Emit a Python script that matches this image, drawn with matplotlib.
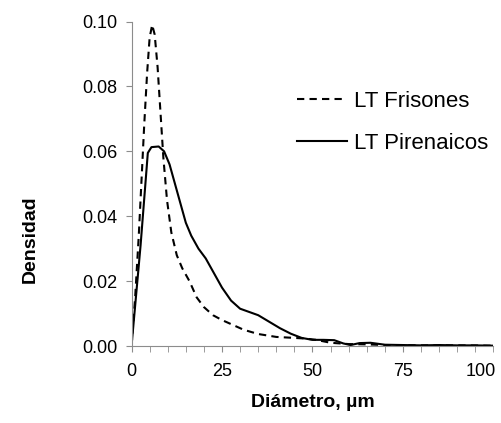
"""Densidad del diámetro de fibras: LT Frisones vs LT Pirenaicos."""

import matplotlib.pyplot as plt
from matplotlib.ticker import MultipleLocator, FixedLocator

plt.rcParams["font.family"] = ["Liberation Sans", "DejaVu Sans"]

# Curvas (diámetro en µm, densidad)
x_frisones = [0, 1, 2, 2.8, 3.5, 4.3, 5, 5.7, 6.4, 7.2, 8, 8.8, 9.8, 11,
              12.5, 14, 16, 18, 20, 22.5, 25, 28, 31, 35, 40, 45, 48, 51,
              55, 60, 65, 70, 80, 90, 100]
y_frisones = [0, 0.015, 0.034, 0.052, 0.068, 0.084, 0.095, 0.099, 0.096,
              0.086, 0.072, 0.058, 0.045, 0.035, 0.028, 0.024, 0.020, 0.015,
              0.012, 0.0095, 0.008, 0.0065, 0.005, 0.0037, 0.0028, 0.0025,
              0.0023, 0.0019, 0.0010, 0.0006, 0.0005, 0.0003, 0.0002,
              0.0002, 0.0001]

x_pirenaicos = [0, 2.5, 4.5, 5.5, 7.5, 9, 10.5, 12, 13.5, 15, 16.5, 18.5,
                20.5, 22.5, 25, 27.5, 30, 32.5, 35, 38, 41, 44, 47, 50, 53,
                56, 58.5, 60.5, 63, 66, 70, 75, 80, 85, 90, 95, 100]
y_pirenaicos = [0, 0.031, 0.0595, 0.0613, 0.0615, 0.060, 0.056, 0.050,
                0.044, 0.038, 0.034, 0.030, 0.027, 0.023, 0.018, 0.014,
                0.0115, 0.0105, 0.0095, 0.0075, 0.0055, 0.0038, 0.0025,
                0.0019, 0.0019, 0.0018, 0.0008, 0.0003, 0.0009, 0.0010,
                0.0004, 0.0003, 0.0002, 0.0003, 0.0002, 0.0002, 0.0001]

x_ticks = [0, 25, 50, 75]
x_last = 100

fig = plt.figure(figsize=(5.02, 4.23), dpi=100)
ax = fig.add_axes([0.262, 0.182, 0.721, 0.767])

ax.plot(x_frisones, y_frisones, color="black", linestyle=(0, (3.5, 2.5)),
        linewidth=1.5, label="LT Frisones")
ax.plot(x_pirenaicos, y_pirenaicos, color="black", linestyle="-",
        linewidth=1.5, label="LT Pirenaicos")

ax.set_xlim(0, 100)
ax.set_ylim(0, 0.10)
ax.xaxis.set_major_locator(FixedLocator(x_ticks))
ax.xaxis.set_minor_locator(MultipleLocator(5))
ax.yaxis.set_major_locator(MultipleLocator(0.02))
ax.yaxis.set_major_formatter(plt.FormatStrFormatter("%.2f"))

for side in ["top", "right"]:
    ax.spines[side].set_visible(False)
for side in ["left", "bottom"]:
    ax.spines[side].set_color("#8c8c8c")
ax.tick_params(axis="both", which="both", direction="out", length=4,
               color="#8c8c8c", labelsize=13, labelcolor="black")
ax.tick_params(axis="x", which="major", pad=8)
ax.tick_params(axis="y", which="major", pad=6)

# como en Excel, la última etiqueta queda dentro del área del gráfico
ax.annotate(str(x_last), xy=(x_last, 0), xycoords=("data", "axes fraction"),
            xytext=(1.5, -12), textcoords="offset points",
            ha="right", va="top", fontsize=13)

ax.set_xlabel("Diámetro, µm", fontsize=14, fontweight="bold", labelpad=10)
ax.set_ylabel("Densidad", fontsize=14, fontweight="bold")
ax.yaxis.set_label_coords(-0.255, 0.33)

ax.legend(loc="upper left", bbox_to_anchor=(0.457, 0.787), frameon=False,
          fontsize=16, handlelength=2.25, handletextpad=0.3,
          labelspacing=0.95, borderaxespad=0, borderpad=0)

fig.savefig("out.png", dpi=100)
plt.close(fig)
